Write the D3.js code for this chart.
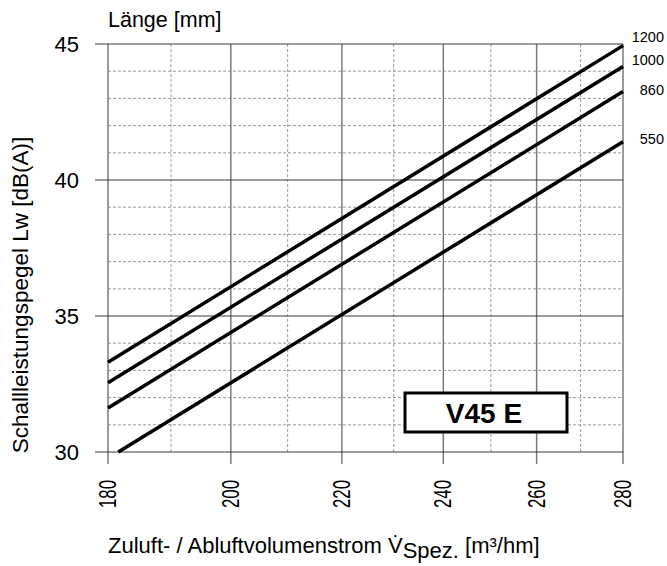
<!DOCTYPE html>
<html>
<head>
  <meta charset="utf-8" />
  <script src="https://d3js.org/d3.v7.min.js"></script>
  <style>
    body { margin: 0; background: white; }
    svg { font-family: "Liberation Sans", Arial, sans-serif; }
  </style>
</head>
<body>
  <div id="chart"></div>
  <script>
    // values
    const lengths = ["1200", "1000", "860", "550"];
    const flowX = [
      [180, 280],
      [180, 280],
      [180, 280],
      [181.6, 280]
    ];
    const levelY = [
      [33.3, 44.94],
      [32.55, 44.17],
      [31.62, 43.25],
      [30.0, 41.41]
    ];
    const xTicks = [180, 200, 220, 240, 260, 280];
    const xMinor = [190, 210, 230, 250, 270];
    const yTicks = [30, 35, 40, 45];
    const yMinor = [31, 32, 33, 34, 36, 37, 38, 39, 41, 42, 43, 44];
    const labelDy = [-9, -7, -2, -3];

    const width = 667, height = 566;
    const plotL = 108, plotR = 623, plotT = 44, plotB = 452;

    const svg = d3.select("#chart").append("svg")
      .attr("width", width)
      .attr("height", height);

    const x = d3.scaleLog().domain([180, 280]).range([plotL, plotR]);
    const y = d3.scaleLinear().domain([30, 45]).range([plotB, plotT]);

    // dashed grid
    svg.append("g").selectAll("line").data(xMinor).enter().append("line")
      .attr("x1", d => x(d)).attr("x2", d => x(d))
      .attr("y1", plotT).attr("y2", plotB)
      .attr("stroke", "#999").attr("stroke-width", 1)
      .attr("stroke-dasharray", "3,2");
    svg.append("g").selectAll("line").data(yMinor).enter().append("line")
      .attr("x1", plotL).attr("x2", plotR)
      .attr("y1", d => y(d)).attr("y2", d => y(d))
      .attr("stroke", "#999").attr("stroke-width", 1)
      .attr("stroke-dasharray", "3,2");

    // solid grid + ticks
    svg.append("g").selectAll("line").data(xTicks).enter().append("line")
      .attr("x1", d => x(d)).attr("x2", d => x(d))
      .attr("y1", plotT).attr("y2", plotB + 12)
      .attr("stroke", "#7a7a7a").attr("stroke-width", 1.5);
    svg.append("g").selectAll("line").data(yTicks).enter().append("line")
      .attr("x1", plotL - 13).attr("x2", plotR)
      .attr("y1", d => y(d)).attr("y2", d => y(d))
      .attr("stroke", "#3a3a3a").attr("stroke-width", 1.2);

    // tick labels
    svg.append("g").selectAll("text").data(yTicks).enter().append("text")
      .attr("x", 79).attr("y", d => y(d))
      .attr("dy", "0.35em")
      .attr("text-anchor", "end")
      .attr("font-size", 22)
      .text(d => d);
    svg.append("g").selectAll("text").data(xTicks).enter().append("text")
      .attr("transform", d => `translate(${x(d)},480) rotate(-90)`)
      .attr("dy", "0.35em")
      .attr("text-anchor", "end")
      .attr("font-size", 23)
      .attr("textLength", 28)
      .attr("lengthAdjust", "spacingAndGlyphs")
      .text(d => d);

    // curves
    const line = d3.line().x(d => x(d[0])).y(d => y(d[1]));
    lengths.forEach((name, i) => {
      const pts = flowX[i].map((v, j) => [v, levelY[i][j]]);
      svg.append("path")
        .attr("d", line(pts))
        .attr("fill", "none")
        .attr("stroke", "black")
        .attr("stroke-width", 3.5);
      svg.append("text")
        .attr("x", 664)
        .attr("y", y(levelY[i][1]) + labelDy[i])
        .attr("dy", "0.35em")
        .attr("text-anchor", "end")
        .attr("font-size", 14.5)
        .text(name);
    });

    // box label
    svg.append("rect")
      .attr("x", 405).attr("y", 393)
      .attr("width", 162).attr("height", 39)
      .attr("fill", "white")
      .attr("stroke", "black").attr("stroke-width", 3);
    svg.append("text")
      .attr("x", 484).attr("y", 423)
      .attr("text-anchor", "middle")
      .attr("font-size", 28).attr("font-weight", "bold")
      .text("V45 E");

    // titles
    svg.append("text")
      .attr("x", 108).attr("y", 27)
      .attr("font-size", 21.5)
      .text("Länge [mm]");

    svg.append("text")
      .attr("transform", "translate(28,295) rotate(-90)")
      .attr("text-anchor", "middle")
      .attr("font-size", 22.5)
      .text("Schallleistungspegel Lw [dB(A)]");

    const xt = svg.append("text")
      .attr("x", 108).attr("y", 553)
      .attr("font-size", 22);
    xt.append("tspan").text("Zuluft- / Abluftvolumenstrom V\u0307");
    xt.append("tspan").attr("dy", 5).text("Spez.");
    xt.append("tspan").attr("dy", -5).text(" [m³/hm]");
  </script>
</body>
</html>
